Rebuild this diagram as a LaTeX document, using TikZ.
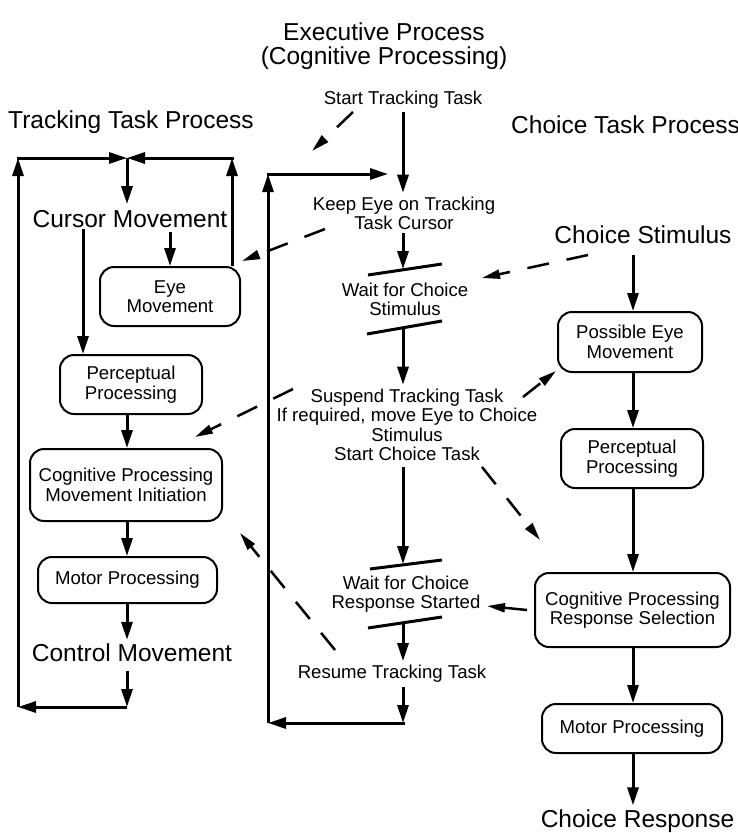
\documentclass[tikz,border=0pt]{standalone}
\usepackage{fontspec}
\setmainfont{Liberation Sans}
\usetikzlibrary{arrows.meta}
\begin{document}
\begin{tikzpicture}[x=1pt,y=-1pt,
  big/.style={font=\fontsize{24.5}{24}\selectfont, align=center, inner sep=0pt},
  small/.style={font=\fontsize{18.6}{19.5}\selectfont, align=center, inner sep=0pt},
  box/.style={small, draw, line width=2pt, rounded corners=14pt},
  arr/.style={line width=3pt, -{Triangle[length=18pt,width=11pt]}},
  darr/.style={line width=2.5pt, dash pattern=on 22pt off 18pt, -{Triangle[length=18pt,width=9pt]}},
  syncbar/.style={line width=3pt}]
\useasboundingbox (0,0) rectangle (738,833);

% titles
\node[big] (exec) at (384,46) {Executive Process\\(Cognitive Processing)};
\node[big] (ttp) at (131,122) {Tracking Task Process};
\node[big, anchor=west] (ctp) at (511,125) {Choice Task Process};

% left column
\node[big] (cursor) at (130,219) {Cursor Movement};
\node[box, minimum width=140pt, minimum height=59pt] (eye) at (170,296.5) {Eye\\Movement};
\node[box, minimum width=142pt, minimum height=59pt] (perc1) at (131,384.5) {Perceptual\\Processing};
\node[box, minimum width=192pt, minimum height=72pt] (cog1) at (126,485) {Cognitive Processing\\Movement Initiation};
\node[box, minimum width=179pt, minimum height=46pt] (motor1) at (127.5,580) {Motor Processing};
\node[big] (control) at (132,653) {Control Movement};

% middle column
\node[small] (start) at (403,100) {Start Tracking Task};
\node[small] (keep) at (404,213.5) {Keep Eye on Tracking\\Task Cursor};
\node[small] (wait1) at (405,299.5) {Wait for Choice\\Stimulus};
\node[small] (suspend) at (407,425) {Suspend Tracking Task\\If required, move Eye to Choice\\Stimulus\\Start Choice Task};
\node[small] (wait2) at (406,594) {Wait for Choice\\Response Started};
\node[small] (resume) at (392,674) {Resume Tracking Task};

% right column
\node[big] (cstim) at (643,235) {Choice Stimulus};
\node[box, minimum width=144pt, minimum height=60pt] (peye) at (630,342) {Possible Eye\\Movement};
\node[box, minimum width=142pt, minimum height=59pt] (perc2) at (632,458.5) {Perceptual\\Processing};
\node[box, minimum width=195pt, minimum height=74pt] (cog2) at (632.5,610) {Cognitive Processing\\Response Selection};
\node[box, minimum width=180pt, minimum height=49pt] (motor2) at (632,728.5) {Motor Processing};
\node[big] (cresp) at (637.5,821) {Choice Response};

% coordinates
\coordinate (tj) at (127,158);
\coordinate (tl) at (18,158);
\coordinate (bl) at (18,707);
\coordinate (br) at (127,707);
\coordinate (tr) at (232,158);
\coordinate (lc) at (83,238);
\coordinate (mt) at (268,174);
\coordinate (mb) at (268,723);
\coordinate (mr) at (403,723);
\coordinate (mx) at (388,174);
\coordinate (rx) at (633,0);
\coordinate (b1a) at (368,275); \coordinate (b1b) at (442,264); \coordinate (b1m) at (403,269);
\coordinate (b2a) at (367,334); \coordinate (b2b) at (442,321); \coordinate (b2m) at (403,328);
\coordinate (b3a) at (370,569); \coordinate (b3b) at (442,560); \coordinate (b3m) at (403,564);
\coordinate (b4a) at (368,628); \coordinate (b4b) at (442,617); \coordinate (b4m) at (403,623);

% sync bars
\draw[syncbar] (b1a) -- (b1b);
\draw[syncbar] (b2a) -- (b2b);
\draw[syncbar] (b3a) -- (b3b);
\draw[syncbar] (b4a) -- (b4b);

% left loop
\draw[arr] (tj) -- ([yshift=6pt]cursor.north -| tj);
\draw[arr] ([yshift=-4pt]cursor.south -| eye.north) -- (eye.north);
\draw[line width=3pt] (lc) -- ([yshift=-1pt]cursor.south -| lc);
\draw[arr] (lc) -- (perc1.north -| lc);
\draw[arr] (perc1.south -| tj) -- (cog1.north -| tj);
\draw[arr] (cog1.south -| tj) -- (motor1.north -| tj);
\draw[arr] (motor1.south -| tj) -- ([yshift=4pt]control.north -| tj);
\draw[arr] ([yshift=-9pt]control.south -| tj) -- (br);
\draw[arr] (br) -- (bl);
\draw[arr] (bl) -- (tl);
\draw[arr] ([xshift=-1.5pt]tl) -- (tj);
\draw[arr] (eye.north -| tr) -- (tr);
\draw[arr] ([xshift=1.5pt]tr) -- (tj);

% middle
\draw[arr] ([yshift=-3pt]start.south) -- ([yshift=4pt]keep.north -| start.south);
\draw[arr] ([yshift=-3pt]keep.south -| b1m) -- (b1m);
\draw[arr] (b2m) -- ([yshift=4pt]suspend.north -| b2m);
\draw[arr] ([yshift=-6pt]suspend.south -| b3m) -- (b3m);
\draw[arr] (b4m) -- ([yshift=4pt]resume.north -| b4m);
\draw[arr] ([yshift=-4pt]resume.south -| mr) -- (mr);
\draw[arr] ([xshift=1.5pt]mr) -- (mb);
\draw[arr] (mb) -- (mt);
\draw[arr] ([xshift=-1.5pt]mt) -- (mx);

% right
\draw[arr] ([yshift=-11pt]cstim.south -| rx) -- (peye.north -| rx);
\draw[arr] (peye.south -| rx) -- (perc2.north -| rx);
\draw[arr] (perc2.south -| rx) -- (cog2.north -| rx);
\draw[arr] (cog2.south -| rx) -- (motor2.north -| rx);
\draw[arr] (motor2.south -| rx) -- ([yshift=4pt]cresp.north -| rx);

% dashed
\coordinate (d1s) at (353,112); \coordinate (d1e) at (312,151);
\coordinate (d2s) at (325,229); \coordinate (d2e) at (242,261);
\coordinate (d3s) at (588,255); \coordinate (d3e) at (482,278);
\coordinate (d4s) at (523,397); \coordinate (d4e) at (556,371);
\coordinate (d5s) at (293,389); \coordinate (d5e) at (195,437);
\coordinate (d6s) at (482,467); \coordinate (d6e) at (540,540);
\coordinate (d7s) at (335,650); \coordinate (d7e) at (240,533);
\coordinate (d8s) at (527,610); \coordinate (d8e) at (487,606);
\draw[darr] (d1s) -- (d1e);
\draw[darr] (d2s) -- (d2e);
\draw[darr] (d3s) -- (d3e);
\draw[darr] (d4s) -- (d4e);
\draw[darr] (d5s) -- (d5e);
\draw[darr] (d6s) -- (d6e);
\draw[darr] (d7s) -- (d7e);
\draw[darr] (d8s) -- (d8e);
\end{tikzpicture}
\end{document}
